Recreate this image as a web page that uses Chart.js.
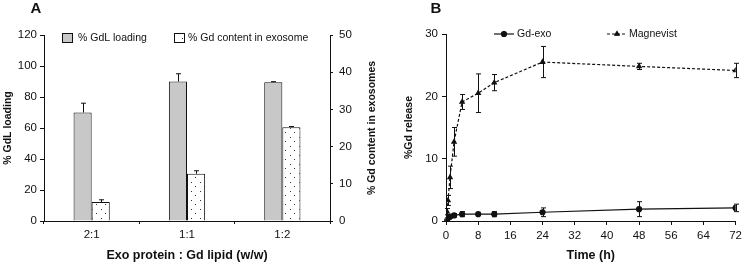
<!DOCTYPE html>
<html>
<head>
<meta charset="utf-8">
<script src="https://cdn.jsdelivr.net/npm/chart.js@4.4.1/dist/chart.umd.min.js"></script>
<style>
  html, body { margin: 0; padding: 0; background: #fff; }
  #wrap { position: relative; width: 746px; height: 266px; }
  canvas { position: absolute; top: 0; }
  #chartA { left: 0; }
  #chartB { left: 400px; }
</style>
</head>
<body>
<div id="wrap">
  <canvas id="chartA" width="400" height="266"></canvas>
  <canvas id="chartB" width="346" height="266"></canvas>
</div>
<script>
// panel A: loading vs ratio
const ratioLabels = ["2:1", "1:1", "1:2"];
const gdlLoading = [70, 90, 89.5];
const gdlLoadingErr = [6, 5, 0.4];
const gdContent = [5.1, 12.7, 25.2];
const gdContentErr = [0.6, 0.8, 0.2];

// panel B: release over time
const timeHours = [0, 0.25, 0.5, 1, 2, 4, 8, 12, 24, 48, 72];
const gdExoRelease = [0.2, 0.4, 0.5, 0.7, 0.9, 1.1, 1.1, 1.1, 1.4, 1.9, 2.1];
const gdExoErr = [0.1, 0.1, 0.2, 0.2, 0.3, 0.4, 0.2, 0.4, 0.7, 1.2, 0.6];
const magnevistRelease = [0, 1.5, 3.3, 7.0, 12.7, 19.1, 20.5, 22.2, 25.5, 24.8, 24.15];
const magnevistErr = [0, 0.5, 0.8, 1.8, 2.3, 1.2, 3.1, 1.3, 2.5, 0.5, 1.15];

const FONT = "'Liberation Sans', Arial, sans-serif";
const tickFont = { family: FONT, size: 11.5 };
const legendFont = "10.5px " + FONT;
const gray = "#c8c8c8";

Chart.defaults.color = "#111";
Chart.defaults.animation = false;

const makeDots = () => {
  const c = document.createElement("canvas");
  c.width = 9;
  c.height = 9;
  const g = c.getContext("2d");
  g.fillStyle = "#fff";
  g.fillRect(0, 0, 9, 9);
  g.fillStyle = "#333";
  g.fillRect(2, 2, 1, 1);
  g.fillRect(6, 6, 1, 1);
  return g.createPattern(c, "repeat");
};
const dots = makeDots();

const errorBars = {
  id: "errorBars",
  afterDatasetsDraw(chart) {
    const ctx = chart.ctx;
    chart.data.datasets.forEach((ds, i) => {
      if (!ds.errors) return;
      const meta = chart.getDatasetMeta(i);
      const yScale = chart.scales[meta.yAxisID];
      const cap = 2.5;
      ctx.save();
      ctx.strokeStyle = "#111";
      ctx.lineWidth = 1;
      ctx.setLineDash([]);
      meta.data.forEach((el, j) => {
        const raw = ds.data[j];
        const v = typeof raw === "object" ? raw.y : raw;
        const e = ds.errors[j];
        if (!e) return;
        const top = yScale.getPixelForValue(v + e);
        const bot = yScale.getPixelForValue(ds.upperOnly ? v : v - e);
        const x = Math.round(el.x) + 0.5;
        ctx.beginPath();
        ctx.moveTo(x, top);
        ctx.lineTo(x, bot);
        ctx.moveTo(x - cap, top);
        ctx.lineTo(x + cap, top);
        if (!ds.upperOnly) {
          ctx.moveTo(x - cap, bot);
          ctx.lineTo(x + cap, bot);
        }
        ctx.stroke();
      });
      ctx.restore();
    });
  },
};

const panelLabel = (text) => ({
  id: "panelLabel" + text,
  afterDraw(chart) {
    const ctx = chart.ctx;
    ctx.save();
    ctx.fillStyle = "#111";
    ctx.font = "bold 15px " + FONT;
    ctx.textAlign = "center";
    ctx.textBaseline = "middle";
    ctx.fillText(text, 36, 9);
    ctx.restore();
  },
});

const legendA = {
  id: "legendA",
  afterDraw(chart) {
    const ctx = chart.ctx;
    ctx.save();
    ctx.lineWidth = 1;
    ctx.strokeStyle = "#111";
    ctx.fillStyle = gray;
    ctx.fillRect(62.5, 33.5, 10, 9);
    ctx.strokeRect(62.5, 33.5, 10, 9);
    ctx.fillStyle = dots;
    ctx.fillRect(174.5, 33.5, 10, 9);
    ctx.strokeRect(174.5, 33.5, 10, 9);
    ctx.fillStyle = "#111";
    ctx.font = legendFont;
    ctx.textBaseline = "middle";
    ctx.fillText("% GdL loading", 78, 38);
    ctx.fillText("% Gd content in exosome", 188, 38);
    // right axis title, reads bottom to top
    const area = chart.chartArea;
    ctx.translate(372, (area.top + area.bottom) / 2);
    ctx.rotate(-Math.PI / 2);
    ctx.font = "bold 10.5px " + FONT;
    ctx.textAlign = "center";
    ctx.fillText("% Gd content in exosomes", 0, 0);
    ctx.restore();
  },
};

const legendB = {
  id: "legendB",
  afterDraw(chart) {
    const ctx = chart.ctx;
    ctx.save();
    ctx.strokeStyle = "#111";
    ctx.fillStyle = "#111";
    ctx.lineWidth = 1.2;
    ctx.beginPath();
    ctx.moveTo(94, 34);
    ctx.lineTo(114, 34);
    ctx.stroke();
    Chart.helpers.drawPoint(ctx, { pointStyle: "circle", radius: 2.5, borderWidth: 1 }, 104, 34);
    ctx.fill();
    ctx.setLineDash([3, 2]);
    ctx.beginPath();
    ctx.moveTo(207, 34);
    ctx.lineTo(227, 34);
    ctx.stroke();
    ctx.setLineDash([]);
    Chart.helpers.drawPoint(ctx, { pointStyle: "triangle", radius: 2.5, borderWidth: 1 }, 217, 34);
    ctx.fill();
    ctx.font = legendFont;
    ctx.textBaseline = "middle";
    ctx.fillText("Gd-exo", 117, 34);
    ctx.fillText("Magnevist", 229, 34);
    ctx.restore();
  },
};

const axisGrid = (len) => ({
  display: true,
  drawOnChartArea: false,
  drawTicks: true,
  tickLength: len,
  color: "#111",
});
const axisBorder = { display: true, color: "#111", width: 1 };

new Chart(document.getElementById("chartA"), {
  type: "bar",
  data: {
    labels: ratioLabels,
    datasets: [
      {
        label: "% GdL loading",
        data: gdlLoading,
        errors: gdlLoadingErr,
        upperOnly: true,
        backgroundColor: gray,
        borderColor: "#111",
        borderWidth: 1,
        yAxisID: "y",
      },
      {
        label: "% Gd content in exosome",
        data: gdContent,
        errors: gdContentErr,
        upperOnly: true,
        backgroundColor: dots,
        borderColor: "#111",
        borderWidth: 1,
        yAxisID: "y1",
      },
    ],
  },
  options: {
    responsive: false,
    devicePixelRatio: 1,
    categoryPercentage: 0.38,
    barPercentage: 1,
    layout: { padding: { top: 35, left: 0, right: 0, bottom: 0 } },
    plugins: { legend: { display: false }, tooltip: { enabled: false } },
    scales: {
      x: {
        grid: { ...axisGrid(3), offset: true },
        border: axisBorder,
        ticks: { font: tickFont, padding: 4, color: "#111" },
        title: {
          display: true,
          text: "Exo protein : Gd lipid (w/w)",
          font: { family: FONT, size: 12.5, weight: "bold" },
          color: "#111",
          padding: { top: 0, bottom: 3 },
        },
        afterFit: (scale) => { scale.height = 45; },
      },
      y: {
        position: "left",
        min: 0,
        max: 120,
        ticks: { stepSize: 20, font: tickFont, padding: 3, color: "#111" },
        grid: axisGrid(4),
        border: axisBorder,
        title: {
          display: true,
          text: "% GdL loading",
          font: { family: FONT, size: 10.5, weight: "bold" },
          color: "#111",
          padding: { top: 2, bottom: 0 },
        },
        afterFit: (scale) => { scale.width = 44; },
      },
      y1: {
        position: "right",
        min: 0,
        max: 50,
        ticks: { stepSize: 10, font: tickFont, padding: 6, color: "#111" },
        grid: axisGrid(3),
        border: axisBorder,
        afterFit: (scale) => { scale.width = 70; },
      },
    },
  },
  plugins: [errorBars, legendA, panelLabel("A")],
});

new Chart(document.getElementById("chartB"), {
  type: "line",
  data: {
    datasets: [
      {
        label: "Gd-exo",
        data: timeHours.map((t, i) => ({ x: t, y: gdExoRelease[i] })),
        errors: gdExoErr,
        borderColor: "#111",
        backgroundColor: "#111",
        borderWidth: 1.2,
        pointStyle: "circle",
        pointRadius: 2.5,
        tension: 0,
      },
      {
        label: "Magnevist",
        data: timeHours.map((t, i) => ({ x: t, y: magnevistRelease[i] })),
        errors: magnevistErr,
        borderColor: "#111",
        backgroundColor: "#111",
        borderWidth: 1.2,
        borderDash: [3, 2],
        pointStyle: "triangle",
        pointRadius: 2.5,
        tension: 0,
      },
    ],
  },
  options: {
    responsive: false,
    devicePixelRatio: 1,
    layout: { padding: { top: 34, left: 0, right: 9, bottom: 0 } },
    plugins: { legend: { display: false }, tooltip: { enabled: false } },
    scales: {
      x: {
        type: "linear",
        min: 0,
        max: 72,
        ticks: { stepSize: 8, font: tickFont, padding: 4, color: "#111" },
        grid: axisGrid(4),
        border: axisBorder,
        title: {
          display: true,
          text: "Time (h)",
          font: { family: FONT, size: 12.5, weight: "bold" },
          color: "#111",
          padding: { top: 0, bottom: 3 },
        },
        afterFit: (scale) => { scale.height = 45; },
      },
      y: {
        min: 0,
        max: 30,
        ticks: { stepSize: 10, font: tickFont, padding: 4, color: "#111" },
        grid: axisGrid(4),
        border: axisBorder,
        title: {
          display: true,
          text: "%Gd release",
          font: { family: FONT, size: 10.5, weight: "bold" },
          color: "#111",
          padding: { top: 3, bottom: 0 },
        },
        afterFit: (scale) => { scale.width = 46; },
      },
    },
  },
  plugins: [errorBars, legendB, panelLabel("B")],
});
</script>
</body>
</html>
